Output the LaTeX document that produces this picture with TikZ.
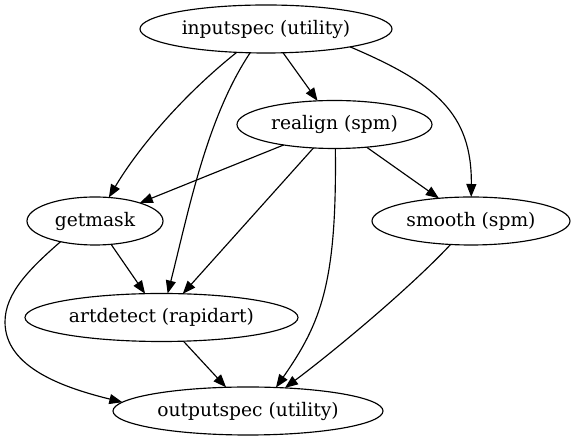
\documentclass[tikz,border=0pt]{standalone}
\usepackage{fontspec}
\setmainfont{DejaVu Serif}
\usetikzlibrary{shapes.geometric,arrows.meta}
\begin{document}
\begin{tikzpicture}[x=1pt,y=1pt,
  nd/.style={ellipse,draw,line width=1.15pt,inner sep=0pt,outer sep=0pt,minimum height=48pt,font=\fontsize{18.67}{22}\selectfont},
  ed/.style={-{Triangle[length=13pt,width=10pt]},line width=1.15pt}]
\useasboundingbox (0,0) rectangle (575,443);
\node[nd,minimum width=252pt] (in) at (266,414) {inputspec (utility)};
\node[nd,minimum width=195pt] (re) at (334.5,318.5) {realign (spm)};
\node[nd,minimum width=136pt] (gm) at (95,222) {getmask};
\node[nd,minimum width=198pt] (sm) at (471,222) {smooth (spm)};
\node[nd,minimum width=273pt] (ad) at (161.5,125.5) {artdetect (rapidart)};
\node[nd,minimum width=270pt] (os) at (248,32) {outputspec (utility)};
% edges
\draw[ed] (in) .. controls (182,347) and (137.5,294) .. (gm);
\draw[ed] (in) .. controls (206,324) and (188,229) .. (ad);
\draw[ed] (in) -- (re);
\draw[ed] (in.-12) .. controls (435,360) and (472,330) .. (sm);
\draw[ed] (re) -- (gm);
\draw[ed] (re) -- (sm);
\draw[ed] (re) -- (ad);
\draw[ed] (re.-88) .. controls (337,160) and (321,120) .. (os.40);
\draw[ed] (gm) -- (ad);
\coordinate (lm) at (5,121);
\draw[ed] (gm.211) .. controls (30,174.6) and (5,150) .. (lm)
  .. controls (5,75) and (65,55) .. (os.176);
\draw[ed] (ad) -- (os);
\draw[ed] (sm.229) .. controls (409,154) and (333,91) .. (os.32);
\end{tikzpicture}
\end{document}
